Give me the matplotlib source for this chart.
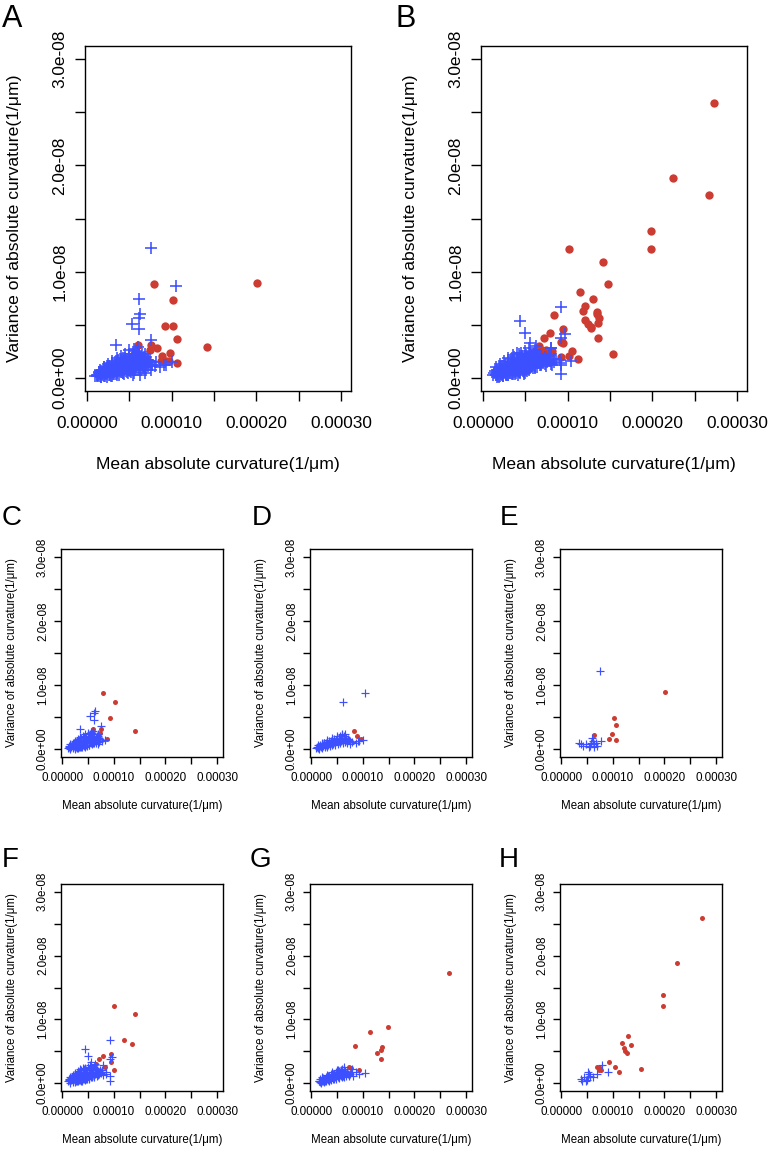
import numpy as np
import matplotlib.pyplot as plt

plt.rcParams['font.family'] = ['Liberation Sans', 'DejaVu Sans']

# x values in units of 1e-5 (1/um), y values in units of 1e-9
XS = 1e-5
YS = 1e-9

c_red = np.array([(7.9, 8.8), (10.2, 7.3), (9.2, 4.9), (14.2, 2.9), (6.0, 3.1), (7.5, 3.1),
                  (7.4, 2.6), (5.6, 2.3), (8.7, 1.6), (7.1, 1.8)])
c_blue = np.array([(6.3, 6.0), (6.2, 5.6), (5.3, 5.1), (6.2, 4.6), (3.4, 3.1), (7.6, 3.6),
                   (6.9, 2.3), (7.0, 0.8), (7.7, 1.2), (8.2, 1.5),
                   (1.2, 0.2), (1.4, 0.5), (1.6, 0.1), (1.8, 0.4), (1.9, 0.7), (2.0, 0.2), (2.2, 0.5),
                   (2.3, 0.9), (2.4, 0.1), (2.5, 0.6), (2.6, 1.1), (2.7, 0.3), (2.8, 0.8), (2.9, 1.3),
                   (3.0, 0.2), (3.1, 0.6), (3.2, 1.0), (3.3, 1.5), (3.4, 0.4), (3.5, 0.8), (3.6, 1.2),
                   (3.7, 1.7), (3.8, 0.3), (3.9, 0.7), (4.0, 1.1), (4.1, 1.5), (4.2, 1.9), (4.3, 0.5),
                   (4.4, 0.9), (4.5, 1.3), (4.6, 1.8), (4.7, 0.6), (4.8, 1.0), (4.9, 1.5), (5.0, 2.1),
                   (5.1, 0.7), (5.2, 1.2), (5.3, 1.7), (5.4, 2.3), (5.5, 0.9), (5.6, 1.4), (5.7, 1.9),
                   (5.8, 2.5), (5.9, 1.0), (6.0, 1.6), (6.2, 2.1), (6.3, 1.2), (6.5, 1.8), (6.6, 0.9),
                   (6.8, 1.4), (7.0, 2.0), (7.2, 1.1), (7.4, 1.6),
                   (1.3, 0.3), (1.5, 0.2), (1.7, 0.5), (2.1, 0.4), (2.1, 0.8), (2.4, 0.4), (2.6, 0.7),
                   (2.8, 0.2), (3.0, 0.9), (3.2, 0.4), (3.4, 1.2), (3.6, 0.3), (3.8, 1.0), (4.0, 0.6),
                   (4.2, 1.3), (4.4, 0.4), (4.5, 1.9), (4.6, 1.0), (4.8, 0.5), (4.9, 1.3), (5.1, 1.8),
                   (5.2, 0.6), (5.4, 1.1), (5.6, 2.0), (5.7, 0.8), (5.9, 1.4), (6.1, 2.4), (6.1, 0.9),
                   (6.4, 1.4), (6.7, 2.0), (6.9, 1.1), (7.2, 1.7), (1.5, 0.8), (2.0, 1.0), (2.5, 1.3),
                   (3.0, 1.6), (3.5, 1.9), (4.0, 2.1), (4.5, 2.3), (5.0, 2.6), (5.5, 2.7), (6.0, 2.9)])

d_red = np.array([(8.3, 2.8), (8.9, 2.1), (9.7, 1.6)])
d_blue = np.array([(10.5, 8.7), (6.1, 7.4), (10.0, 1.5), (8.6, 1.0), (7.6, 0.8), (9.3, 1.2),
                   (1.2, 0.3), (1.4, 0.6), (1.6, 0.1), (1.8, 0.5), (2.0, 0.8), (2.1, 0.2), (2.3, 0.6),
                   (2.5, 1.0), (2.6, 0.3), (2.8, 0.7), (3.0, 1.1), (3.1, 0.4), (3.3, 0.8), (3.5, 1.3),
                   (3.6, 0.5), (3.8, 0.9), (4.0, 1.4), (4.1, 0.6), (4.3, 1.0), (4.5, 1.6), (4.6, 0.7),
                   (4.8, 1.2), (5.0, 1.8), (5.1, 0.8), (5.3, 1.3), (5.5, 2.0), (5.6, 0.9), (5.8, 1.5),
                   (6.0, 2.2), (6.1, 1.0), (6.3, 1.6), (6.5, 2.3), (6.6, 1.1), (6.8, 1.7), (7.0, 1.2),
                   (7.3, 1.4), (8.0, 1.1), (9.1, 1.2),
                   (1.3, 0.2), (1.5, 0.4), (1.7, 0.7), (1.9, 0.3), (2.2, 0.5), (2.4, 0.9), (2.7, 0.5),
                   (2.9, 0.9), (3.2, 0.6), (3.4, 1.1), (3.7, 0.7), (3.9, 1.2), (4.2, 0.8), (4.4, 1.3),
                   (4.7, 1.0), (4.9, 1.5), (5.2, 1.1), (5.4, 1.7), (5.7, 1.2), (5.9, 1.8), (6.2, 1.3),
                   (6.4, 2.0), (6.7, 1.4), (6.9, 1.0), (7.2, 1.6), (7.5, 1.2), (1.0, 0.2), (2.0, 1.0),
                   (3.0, 1.4), (4.0, 1.7), (5.0, 2.1), (6.0, 2.4)])

e_red = np.array([(20.1, 8.9), (10.2, 4.9), (10.6, 3.7), (9.8, 2.4), (9.3, 1.6), (10.6, 1.4), (6.3, 2.2)])
e_blue = np.array([(7.5, 12.2), (3.8, 0.8), (4.8, 0.8), (5.6, 0.5), (6.1, 1.3), (6.4, 0.8), (6.7, 1.0),
                   (7.7, 1.2), (5.4, 0.3), (4.2, 0.5), (5.9, 1.7), (6.3, 0.3), (6.9, 0.5), (3.5, 0.9),
                   (5.7, 1.0)])

f_red = np.array([(10.1, 12.1), (14.2, 10.9), (12.0, 6.8), (13.5, 6.2), (9.4, 4.6), (7.9, 4.2),
                  (7.2, 3.8), (6.6, 3.0), (10.1, 2.1), (8.2, 2.5), (9.4, 3.3), (6.1, 2.5)])
f_blue = np.array([(9.2, 6.7), (4.4, 5.4), (5.0, 4.2), (9.2, 3.8), (9.7, 4.1), (9.2, 1.2), (9.2, 0.4),
                   (8.4, 1.5), (7.6, 1.8), (6.3, 3.0), (5.5, 3.3), (8.0, 2.8),
                   (1.2, 0.3), (1.4, 0.7), (1.6, 0.1), (1.8, 0.5), (1.9, 0.9), (2.0, 0.2), (2.2, 0.6),
                   (2.3, 1.1), (2.4, 0.2), (2.5, 0.7), (2.6, 1.3), (2.7, 0.4), (2.8, 0.9), (2.9, 1.5),
                   (3.0, 0.3), (3.1, 0.7), (3.2, 1.2), (3.3, 1.8), (3.4, 0.5), (3.5, 1.0), (3.6, 1.5),
                   (3.7, 2.0), (3.8, 0.4), (3.9, 0.8), (4.0, 1.3), (4.1, 1.8), (4.2, 2.3), (4.3, 0.6),
                   (4.4, 1.1), (4.5, 1.6), (4.6, 2.1), (4.7, 0.7), (4.8, 1.2), (4.9, 1.8), (5.0, 2.5),
                   (5.1, 0.8), (5.2, 1.4), (5.3, 2.0), (5.4, 2.8), (5.5, 1.0), (5.6, 1.6), (5.7, 2.2),
                   (5.8, 1.2), (6.0, 1.8), (6.1, 2.6), (6.2, 1.0), (6.4, 1.5), (6.5, 2.2), (6.7, 1.2),
                   (6.9, 1.8), (7.1, 1.4), (7.3, 2.0), (7.6, 1.6), (8.0, 1.3),
                   (1.3, 0.5), (1.5, 0.3), (1.7, 0.8), (2.1, 0.4), (2.1, 1.0), (2.4, 0.5), (2.6, 0.9),
                   (2.8, 0.3), (3.0, 1.2), (3.2, 0.5), (3.4, 1.5), (3.6, 0.4), (3.8, 1.2), (4.0, 0.7),
                   (4.2, 1.6), (4.4, 0.5), (4.5, 2.4), (4.6, 1.2), (4.8, 0.6), (4.9, 1.5), (5.1, 2.2),
                   (5.2, 0.7), (5.4, 1.3), (5.6, 2.4), (5.7, 1.0), (5.9, 1.6), (6.1, 1.1), (6.4, 2.0),
                   (6.7, 1.6), (6.9, 1.3), (7.2, 1.8), (1.5, 1.0), (2.0, 1.3), (2.5, 1.6), (3.0, 1.9),
                   (3.5, 2.2), (4.0, 2.4), (6.3, 2.4), (7.8, 2.1), (8.4, 1.8)])

g_red = np.array([(26.7, 17.2), (14.8, 8.8), (11.4, 8.1), (8.4, 5.9), (12.8, 4.7), (13.6, 5.2),
                  (13.7, 5.6), (13.6, 3.8), (7.4, 2.6), (7.7, 2.4), (9.2, 2.0), (7.8, 1.5)])
g_blue = np.array([(10.4, 1.6), (8.1, 1.2), (6.3, 2.5), (5.2, 2.0), (8.6, 1.8), (9.2, 1.4), (7.9, 2.2),
                   (1.5, 0.3), (1.7, 0.6), (1.9, 0.1), (2.1, 0.4), (2.3, 0.8), (2.4, 0.2), (2.6, 0.5),
                   (2.8, 1.0), (2.9, 0.3), (3.1, 0.7), (3.3, 1.2), (3.4, 0.4), (3.6, 0.8), (3.8, 1.4),
                   (3.9, 0.5), (4.1, 0.9), (4.3, 1.5), (4.4, 0.6), (4.6, 1.1), (4.8, 1.7), (4.9, 0.7),
                   (5.1, 1.2), (5.3, 1.9), (5.4, 0.8), (5.6, 1.4), (5.8, 2.1), (5.9, 0.9), (6.1, 1.5),
                   (6.3, 2.3), (6.4, 1.0), (6.6, 1.6), (6.8, 1.2), (7.0, 1.8), (7.3, 1.3), (7.6, 1.5),
                   (1.6, 0.4), (1.8, 0.2), (2.0, 0.7), (2.2, 0.3), (2.5, 0.6), (2.7, 0.3), (3.0, 0.9),
                   (3.2, 0.5), (3.5, 1.1), (3.7, 0.6), (4.0, 1.3), (4.2, 0.7), (4.5, 1.4), (4.7, 0.9),
                   (5.0, 1.6), (5.2, 0.9), (5.5, 1.7), (5.7, 1.1), (6.0, 2.0), (6.2, 1.2), (6.5, 1.9),
                   (6.7, 1.4), (7.1, 1.5), (7.4, 1.1), (2.0, 1.0), (3.0, 1.3), (4.0, 1.7), (5.0, 2.0),
                   (6.0, 2.3), (7.8, 1.7)])

h_red = np.array([(27.3, 25.9), (22.4, 18.8), (19.8, 13.8), (19.8, 12.1), (13.0, 7.4), (11.8, 6.3),
                  (13.5, 6.0), (12.1, 5.5), (12.4, 5.1), (12.8, 4.8), (15.4, 2.3), (9.2, 3.4),
                  (10.5, 2.5), (11.2, 1.8), (6.9, 2.6), (7.5, 2.4), (7.8, 2.0), (7.3, 2.1)])
h_blue = np.array([(8.0, 2.8), (9.1, 1.7), (7.0, 1.5), (5.4, 1.5), (5.1, 0.9), (4.5, 0.9), (3.8, 0.7),
                   (4.8, 0.4), (5.6, 1.1), (4.1, 0.3), (6.1, 0.9), (5.2, 1.8), (5.0, 0.5)])

# A and B pool the three small panels below them
a_red = np.vstack([c_red, d_red, e_red])
a_blue = np.vstack([c_blue, d_blue, e_blue])
b_red = np.vstack([f_red, g_red, h_red])
b_blue = np.vstack([f_blue, g_blue, h_blue])

x_ticks = [0, 5e-5, 1e-4, 1.5e-4, 2e-4, 2.5e-4, 3e-4]
x_labels = ["0.00000", "", "0.00010", "", "0.00020", "", "0.00030"]
y_ticks = [0, 0.5e-8, 1e-8, 1.5e-8, 2e-8, 2.5e-8, 3e-8]
y_labels = ["0.0e+00", "", "1.0e-08", "", "2.0e-08", "", "3.0e-08"]

RED = "#CC3C32"
BLUE = "#3D50FF"

W, H = 771, 1149
fig = plt.figure(figsize=(W / 100, H / 100), dpi=100)


def panel(left, top, w, h, red, blue, big):
    ax = fig.add_axes([left / W, 1 - (top + h) / H, w / W, h / H])
    if big:
        s, ms, mew, fs, tfs, tl, xpad, ypad = 36, 8.8, 1.15, 12.6, 12.4, 7.5, 10.5, 5.3
        xl, yl = -0.191, -0.237
    else:
        s, ms, mew, fs, tfs, tl, xpad, ypad = 13, 6.4, 0.85, 8.3, 8.4, 4.7, 6.3, 4.0
        xl, yl = -0.207, -0.265
    ax.scatter(red[:, 0] * XS, red[:, 1] * YS, s=s, color=RED, linewidths=0, zorder=2)
    ax.plot(blue[:, 0] * XS, blue[:, 1] * YS, '+', color=BLUE, ms=ms, mew=mew, zorder=3)
    ax.set_xlim(-2.3e-6, 3.116e-4)
    ax.set_ylim(-1.22e-9, 3.122e-8)
    ax.set_xticks(x_ticks, x_labels)
    ax.set_yticks(y_ticks, y_labels)
    for lab in ax.get_yticklabels():
        lab.set_rotation(90)
        lab.set_va('center')
    ax.tick_params(axis='x', length=tl, width=1, labelsize=tfs, pad=xpad)
    ax.tick_params(axis='y', length=tl, width=1, labelsize=tfs, pad=ypad)
    for sp in ax.spines.values():
        sp.set_linewidth(1.0)
    ax.set_xlabel("Mean absolute curvature(1/μm)", fontsize=fs)
    ax.set_ylabel("Variance of absolute curvature(1/μm)", fontsize=fs)
    ax.xaxis.set_label_coords(0.5, xl)
    ax.yaxis.set_label_coords(yl, 0.5)
    return ax


panel(85, 46, 266, 345, a_red, a_blue, True)
panel(481, 46, 266, 345, b_red, b_blue, True)
panel(61, 549, 162, 208, c_red, c_blue, False)
panel(310, 549, 162, 208, d_red, d_blue, False)
panel(560, 549, 162, 208, e_red, e_blue, False)
panel(61, 884, 162, 207, f_red, f_blue, False)
panel(310, 884, 162, 207, g_red, g_blue, False)
panel(560, 884, 162, 207, h_red, h_blue, False)

letters = [("A", 2, 27, 22), ("B", 396, 27, 22), ("C", 2, 525, 20), ("D", 252, 525, 20),
           ("E", 500, 525, 20), ("F", 2, 867, 20), ("G", 250, 867, 20), ("H", 499, 867, 20)]
for txt, px, py, size in letters:
    fig.text(px / W, 1 - py / H, txt, fontsize=size, va='baseline', ha='left')

fig.savefig("out.png", dpi=100, facecolor="white")
